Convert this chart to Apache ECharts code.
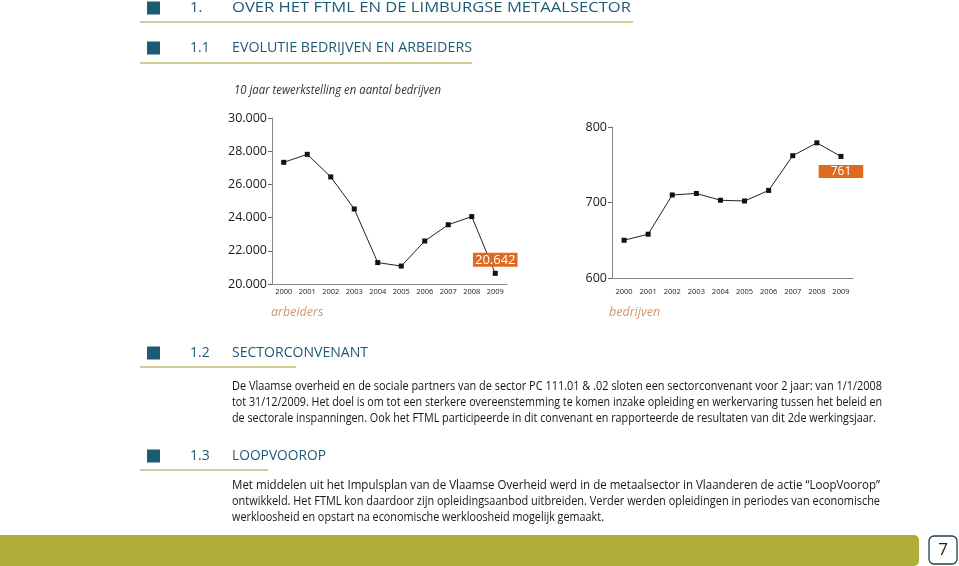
<!DOCTYPE html>
<html>
<head>
<meta charset="utf-8">
<script src="https://cdn.jsdelivr.net/npm/echarts@6/dist/echarts.min.js"></script>
<style>
html,body{margin:0;padding:0;background:#fff;}
#c{width:959px;height:566px;}
</style>
</head>
<body>
<div id="c"></div>
<script>
// ---- data ----
const years = ['2000','2001','2002','2003','2004','2005','2006','2007','2008','2009'];
const arbeiders = [27330, 27810, 26450, 24520, 21290, 21080, 22590, 23570, 24060, 20642];
const bedrijven = [650, 658, 710, 712, 703, 702, 716, 762, 779, 761];
const leftTicks = [20000, 22000, 24000, 26000, 28000, 30000];
const rightTicks = [600, 700, 800];

const heading1 = ['1.', 'OVER HET FTML EN DE LIMBURGSE METAALSECTOR'];
const heading11 = ['1.1', 'EVOLUTIE BEDRIJVEN EN ARBEIDERS'];
const heading12 = ['1.2', 'SECTORCONVENANT'];
const heading13 = ['1.3', 'LOOPVOOROP'];
const subtitle = '10 jaar tewerkstelling en aantal bedrijven';
const para12 = [
  'De Vlaamse overheid en de sociale partners van de sector PC 111.01 & .02 sloten een sectorconvenant voor 2 jaar: van 1/1/2008',
  'tot 31/12/2009. Het doel is om tot een sterkere overeenstemming te komen inzake opleiding en werkervaring tussen het beleid en',
  'de sectorale inspanningen. Ook het FTML participeerde in dit convenant en rapporteerde de resultaten van dit 2de werkingsjaar.'
];
const para13 = [
  'Met middelen uit het Impulsplan van de Vlaamse Overheid werd in de metaalsector in Vlaanderen de actie \u201cLoopVoorop\u201d',
  'ontwikkeld. Het FTML kon daardoor zijn opleidingsaanbod uitbreiden. Verder werden opleidingen in periodes van economische',
  'werkloosheid en opstart na economische werkloosheid mogelijk gemaakt.'
];
const page = '7';

// ---- helpers ----
const FONT = '"Open Sans", "Noto Sans", sans-serif';
const teal = '#1d5a73';
const olive = '#b0ad3a';
const orange = '#df6a1f';
const mctx = document.createElement('canvas').getContext('2d');
function measure(text, size, style){
  mctx.font = (style||'normal') + ' ' + size + 'px ' + FONT;
  return mctx.measureText(text).width;
}
function txt(text, x, y, size, fill, target, extra){
  const style = (extra && extra.fontStyle) || 'normal';
  let sx = 1;
  if (target) sx = target / measure(text, size, style);
  return {
    type:'text', x:x, y:y, scaleX:sx, silent:true,
    style:Object.assign({text:text, fontSize:size, fontFamily:FONT, fontStyle:style, fill:fill,
      textAlign:'left', textVerticalAlign:'middle'}, extra||{})
  };
}
function fmtThousand(v){
  return String(v).replace(/\B(?=(\d{3})+(?!\d))/g, '.');
}

const g = [];
function heading(parts, sy, size, titleW, lineY, lineEnd){
  g.push({type:'rect', shape:{x:147,y:sy-6.5,width:13,height:13}, style:{fill:teal}, silent:true});
  g.push(txt(parts[0], 190, sy, size, teal));
  g.push(txt(parts[1], 232, sy, size, teal, titleW));
  g.push({type:'line', shape:{x1:140,y1:lineY,x2:lineEnd,y2:lineY}, style:{stroke:'#c2bc6c', lineWidth:1.6}, silent:true});
}
heading(heading1, 8, 15, 399, 22, 633);
heading(heading11, 48, 14, 240, 63, 472);
heading(heading12, 353, 14, 136, 367, 296);
heading(heading13, 456, 14, 94, 470, 268);

g.push(txt(subtitle, 234, 91, 12, '#333', 207, {fontStyle:'italic'}));
g.push(txt('arbeiders', 271, 312, 12.5, '#d59466', null, {fontStyle:'italic'}));
g.push(txt('bedrijven', 609, 312, 12.5, '#d59466', null, {fontStyle:'italic'}));

const p12W = [650, 650, 644];
para12.forEach((l,i)=> g.push(txt(l, 232, 386 + i*16, 12.5, '#161616', p12W[i])));
const p13W = [648, 648, 372];
para13.forEach((l,i)=> g.push(txt(l, 232, 485 + i*16, 12.5, '#161616', p13W[i])));

// bottom bar + page box
g.push({type:'rect', shape:{x:-6,y:535,width:925,height:31,r:5}, style:{fill:olive}, silent:true});
g.push({type:'rect', shape:{x:929,y:536,width:28,height:28,r:5}, style:{fill:'#fff', stroke:'#1f3f4c', lineWidth:1.3}, silent:true});
g.push({type:'text', x:943, y:550.5, silent:true, style:{text:page, fontSize:17, fontFamily:FONT, fill:'#222', textAlign:'center', textVerticalAlign:'middle'}});

// ---- chart ----
function lastLabel(arr, cfg){
  return arr.map((v,i)=> i === arr.length-1 ? {value:v, label:Object.assign({show:true}, cfg)} : v);
}
const axisX = (gi, margin) => ({
  type:'category', gridIndex:gi, data:years, boundaryGap:true,
  axisLine:{lineStyle:{color:'#888', width:1}},
  axisTick:{inside:true, length:3, lineStyle:{color:'#555'}},
  axisLabel:{fontSize:7.5, fontFamily:FONT, color:'#222', margin:margin, interval:0}
});
const axisY = (gi, min, max, interval, ticks) => ({
  type:'value', gridIndex:gi, min:min, max:max, interval:interval,
  splitLine:{show:false},
  axisLine:{show:true, lineStyle:{color:'#888', width:1}},
  axisTick:{show:true, length:4, lineStyle:{color:'#666'}},
  axisLabel:{fontSize:12.5, fontFamily:FONT, color:'#1a1a1a', margin:5,
    formatter:v => ticks.indexOf(v) >= 0 ? fmtThousand(v) : ''}
});

const chart = echarts.init(document.getElementById('c'), null, {renderer:'canvas'});
chart.setOption({
  animation:false,
  backgroundColor:'#fff',
  grid:[
    {left:272, top:118, width:235, height:166},
    {left:612, top:127, width:241, height:151}
  ],
  xAxis:[axisX(0, 4), axisX(1, 10)],
  yAxis:[axisY(0, 20000, 30000, 2000, leftTicks), axisY(1, 600, 800, 100, rightTicks)],
  series:[
    {type:'line', xAxisIndex:0, yAxisIndex:0, symbol:'rect', symbolSize:5,
     lineStyle:{color:'#222', width:1}, itemStyle:{color:'#111'},
     data:lastLabel(arbeiders, {position:'top', distance:4, formatter:p=>fmtThousand(p.value),
       backgroundColor:orange, color:'#fff', fontSize:13, fontFamily:FONT, padding:[1,2,0,2]})},
    {type:'line', xAxisIndex:1, yAxisIndex:1, symbol:'rect', symbolSize:5,
     lineStyle:{color:'#222', width:1}, itemStyle:{color:'#111'},
     data:lastLabel(bedrijven, {position:'bottom', distance:6, formatter:p=>String(p.value),
       backgroundColor:orange, color:'#fff', fontSize:12, fontFamily:FONT, padding:[1,12,0,12]})}
  ],
  graphic:g
});
</script>
</body>
</html>
